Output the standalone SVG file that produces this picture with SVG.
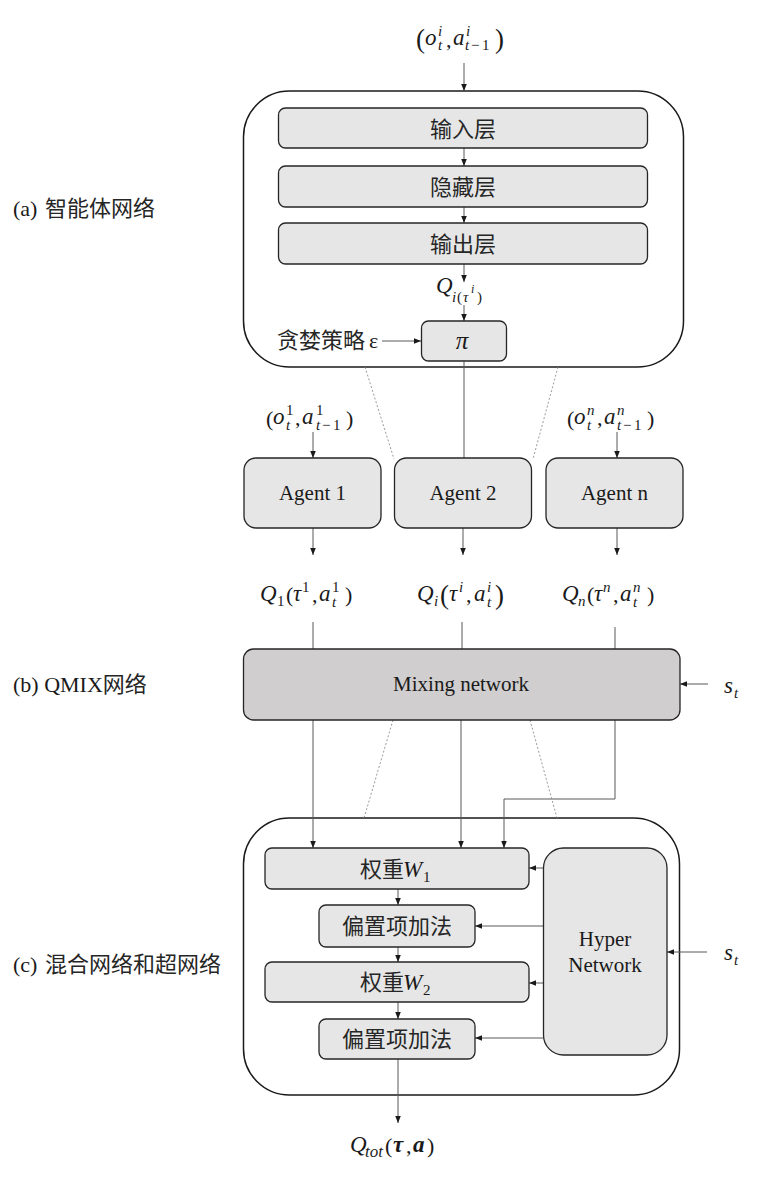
<svg xmlns="http://www.w3.org/2000/svg" width="767" height="1180" viewBox="0 0 767 1180">
<defs>
<marker id="ah" viewBox="0 0 10 10" refX="10" refY="5" markerWidth="7" markerHeight="7" orient="auto" markerUnits="userSpaceOnUse"><path d="M0,1 L10,5 L0,9 z" fill="#1a1a1a"/></marker>
</defs>
<style>
.outer{fill:#fff;stroke:#1a1a1a;stroke-width:1.5}
.box{fill:#e7e6e6;stroke:#262626;stroke-width:1.3}
.mix{fill:#d0cece;stroke:#262626;stroke-width:1.3}
.cn{font-family:"Noto Sans CJK SC",sans-serif;font-size:22px;fill:#262626}
.lt{font-family:"Liberation Serif","Noto Sans CJK SC",serif;font-size:22px;fill:#1a1a1a}
.en{font-family:"Liberation Serif",serif;font-size:21px;fill:#1a1a1a}
.m{font-family:"Liberation Serif",serif;font-style:italic;font-size:23px;fill:#1a1a1a}
.ms{font-family:"Liberation Serif",serif;font-style:italic;font-size:15px;fill:#1a1a1a}
.ns{font-family:"Liberation Serif",serif;font-size:15px;fill:#1a1a1a}
.p{font-family:"Liberation Serif",serif;font-size:22px;fill:#1a1a1a}
.pl{font-family:"Liberation Serif",serif;font-size:27px;fill:#1a1a1a}
.mb{font-family:"Liberation Serif",serif;font-style:italic;font-weight:bold;font-size:23px;fill:#1a1a1a}
.c{stroke:#595959;stroke-width:1;fill:none}
.a{marker-end:url(#ah)}
.d{stroke:#808080;stroke-width:0.8;stroke-dasharray:2 2;fill:none}
</style>

<!-- side labels -->
<g id="label-a"><text x="13" y="216" class="lt">(a)</text><text x="45" y="216" class="cn">智能体网络</text></g>
<g id="label-b"><text x="13" y="692" class="lt">(b) QMIX<tspan class="cn">网络</tspan></text></g>
<g id="label-c"><text x="13" y="972" class="lt">(c)</text><text x="45" y="972" class="cn">混合网络和超网络</text></g>

<!-- outer containers -->
<g id="agent-network"><rect x="243.5" y="91" width="440" height="276" rx="46" class="outer"/></g>
<g id="mix-hyper"><rect x="243.5" y="818" width="436" height="277" rx="46" class="outer"/></g>

<!-- connectors -->
<g id="connectors">
  <line x1="464" y1="63" x2="464" y2="91" class="c a"/>
  <line x1="464" y1="148" x2="464" y2="166" class="c a"/>
  <line x1="464" y1="207" x2="464" y2="223" class="c a"/>
  <line x1="464" y1="264" x2="464" y2="282" class="c a"/>
  <line x1="464" y1="305" x2="464" y2="321" class="c a"/>
  <line x1="382" y1="341" x2="421" y2="341" class="c a"/>
  <line x1="464" y1="361" x2="464" y2="458" class="c"/>
  <line x1="365" y1="367" x2="394" y2="459" class="d"/>
  <line x1="558" y1="367" x2="533" y2="459" class="d"/>
  <line x1="313" y1="432" x2="313" y2="458" class="c a"/>
  <line x1="617" y1="432" x2="617" y2="458" class="c a"/>
  <line x1="313" y1="528" x2="313" y2="555" class="c a"/>
  <line x1="463" y1="528" x2="463" y2="555" class="c a"/>
  <line x1="617" y1="528" x2="617" y2="555" class="c a"/>
  <line x1="313" y1="622" x2="313" y2="649" class="c"/>
  <line x1="462" y1="622" x2="462" y2="649" class="c"/>
  <line x1="615" y1="627" x2="615" y2="649" class="c"/>
  <line x1="708" y1="684" x2="680" y2="684" class="c a"/>
  <line x1="313" y1="720" x2="313" y2="848" class="c a"/>
  <line x1="461" y1="720" x2="461" y2="848" class="c a"/>
  <polyline points="615,720 615,799 504,799 504,848" class="c a"/>
  <line x1="393" y1="720" x2="364" y2="818" class="d"/>
  <line x1="530" y1="720" x2="557" y2="818" class="d"/>
  <line x1="398" y1="889" x2="398" y2="905" class="c a"/>
  <line x1="398" y1="947" x2="398" y2="962" class="c a"/>
  <line x1="398" y1="1002" x2="398" y2="1019" class="c a"/>
  <line x1="398" y1="1059" x2="398" y2="1123" class="c a"/>
  <line x1="543" y1="868" x2="529" y2="868" class="c a"/>
  <line x1="543" y1="926" x2="475" y2="926" class="c a"/>
  <line x1="543" y1="983" x2="529" y2="983" class="c a"/>
  <line x1="543" y1="1038" x2="475" y2="1038" class="c a"/>
  <line x1="707" y1="952" x2="667" y2="952" class="c a"/>
</g>

<!-- agent network internals -->
<g id="input-top">
  <text x="416" y="48" class="pl">(</text>
  <text x="425" y="45" class="m">o</text>
  <text x="438" y="36" class="ms">i</text>
  <text x="438" y="50" class="ms">t</text>
  <text x="446" y="47" class="p">,</text>
  <text x="453" y="45" class="m">a</text>
  <text x="466" y="36" class="ms">i</text>
  <text x="465" y="50" class="ms">t</text><text x="471" y="50" class="ns">−</text><text x="482" y="50" class="ns">1</text>
  <text x="495" y="48" class="pl">)</text>
</g>
<g id="input-layer"><rect x="278.5" y="108" width="369" height="40" rx="7" class="box"/><text x="463" y="137" class="cn" text-anchor="middle">输入层</text></g>
<g id="hidden-layer"><rect x="278.5" y="166" width="369" height="41" rx="7" class="box"/><text x="463" y="195" class="cn" text-anchor="middle">隐藏层</text></g>
<g id="output-layer"><rect x="278.5" y="223" width="369" height="41" rx="7" class="box"/><text x="463" y="252" class="cn" text-anchor="middle">输出层</text></g>
<g id="q-i">
  <text x="436" y="293" class="m">Q</text>
  <text x="452" y="302" class="ms">i</text>
  <text x="457" y="302" class="ns">(</text>
  <text x="463" y="302" class="ms">τ</text>
  <text x="471" y="293" style="font-family:'Liberation Serif',serif;font-style:italic;font-size:12px;fill:#1a1a1a">i</text>
  <text x="477" y="302" class="ns">)</text>
</g>
<g id="greedy"><text x="277" y="348" class="cn">贪婪策略</text><text x="369" y="348" class="p">ε</text></g>
<g id="pi"><rect x="421.5" y="321" width="85" height="40" rx="7" class="box"/><text x="462" y="349" class="m" style="font-size:25px" text-anchor="middle">π</text></g>

<!-- agents -->
<g id="in-1">
  <text x="266" y="426" class="p">(</text>
  <text x="273" y="424" class="m">o</text>
  <text x="286" y="415" class="ns">1</text>
  <text x="286" y="430" class="ms">t</text>
  <text x="295" y="425" class="p">,</text>
  <text x="302" y="424" class="m">a</text>
  <text x="316" y="415" class="ns">1</text>
  <text x="316" y="430" class="ms">t</text><text x="322" y="430" class="ns">−</text><text x="333" y="430" class="ns">1</text>
  <text x="346" y="426" class="p">)</text>
</g>
<g id="in-n">
  <text x="567" y="426" class="p">(</text>
  <text x="574" y="424" class="m">o</text>
  <text x="587" y="415" class="ms">n</text>
  <text x="587" y="430" class="ms">t</text>
  <text x="597" y="425" class="p">,</text>
  <text x="604" y="424" class="m">a</text>
  <text x="617" y="415" class="ms">n</text>
  <text x="617" y="430" class="ms">t</text><text x="623" y="430" class="ns">−</text><text x="634" y="430" class="ns">1</text>
  <text x="647" y="426" class="p">)</text>
</g>
<g id="agent-1"><rect x="244" y="458" width="137" height="70" rx="12" class="box"/><text x="312.5" y="500" class="en" text-anchor="middle">Agent 1</text></g>
<g id="agent-2"><rect x="394.5" y="458" width="137" height="70" rx="12" class="box"/><text x="463" y="500" class="en" text-anchor="middle">Agent 2</text></g>
<g id="agent-n"><rect x="546" y="458" width="137" height="70" rx="12" class="box"/><text x="614.5" y="500" class="en" text-anchor="middle">Agent n</text></g>

<g id="q-1">
  <text x="260" y="601" class="m">Q</text>
  <text x="277" y="606" class="ns">1</text>
  <text x="286" y="602" class="p">(</text>
  <text x="293" y="601" class="m">τ</text>
  <text x="302" y="592" class="ns">1</text>
  <text x="312" y="602" class="p">,</text>
  <text x="319" y="601" class="m">a</text>
  <text x="332" y="592" class="ns">1</text>
  <text x="332" y="607" class="ms">t</text>
  <text x="345" y="602" class="p">)</text>
</g>
<g id="q-i2">
  <text x="417" y="601" class="m">Q</text>
  <text x="434" y="606" class="ms">i</text>
  <text x="440" y="604" class="pl">(</text>
  <text x="449" y="601" class="m">τ</text>
  <text x="459" y="592" class="ms">i</text>
  <text x="466" y="602" class="p">,</text>
  <text x="474" y="601" class="m">a</text>
  <text x="487" y="592" class="ms">i</text>
  <text x="487" y="607" class="ms">t</text>
  <text x="495" y="604" class="pl">)</text>
</g>
<g id="q-n">
  <text x="562" y="601" class="m">Q</text>
  <text x="578" y="606" class="ms">n</text>
  <text x="587" y="602" class="p">(</text>
  <text x="594" y="601" class="m">τ</text>
  <text x="603" y="592" class="ms">n</text>
  <text x="613" y="602" class="p">,</text>
  <text x="620" y="601" class="m">a</text>
  <text x="633" y="592" class="ms">n</text>
  <text x="633" y="607" class="ms">t</text>
  <text x="647" y="602" class="p">)</text>
</g>

<!-- mixing network -->
<g id="mixing"><rect x="243.5" y="649" width="436.5" height="71" rx="10" class="mix"/><text x="461" y="691" class="en" text-anchor="middle">Mixing network</text></g>
<g id="s-t1"><text x="724" y="693" class="m">s</text><text x="734" y="698" class="ms">t</text></g>

<!-- mixing internals -->
<g id="w1"><rect x="265" y="848" width="264" height="41" rx="7" class="box"/><text x="360" y="877" class="cn">权重</text><text x="403" y="877" class="m">W</text><text x="423" y="882" class="ns">1</text></g>
<g id="bias-1"><rect x="319" y="905" width="156" height="42" rx="7" class="box"/><text x="397" y="934" class="cn" text-anchor="middle">偏置项加法</text></g>
<g id="w2"><rect x="265" y="962" width="264" height="40" rx="7" class="box"/><text x="360" y="990" class="cn">权重</text><text x="403" y="990" class="m">W</text><text x="423" y="995" class="ns">2</text></g>
<g id="bias-2"><rect x="319" y="1019" width="156" height="40" rx="7" class="box"/><text x="397" y="1047" class="cn" text-anchor="middle">偏置项加法</text></g>
<g id="hyper"><rect x="543.5" y="848" width="123.5" height="207" rx="20" class="box"/><text x="605" y="946" class="en" text-anchor="middle">Hyper</text><text x="605" y="972" class="en" text-anchor="middle">Network</text></g>
<g id="s-t2"><text x="724" y="960" class="m">s</text><text x="734" y="965" class="ms">t</text></g>

<g id="q-tot">
  <text x="350" y="1152" class="m">Q</text>
  <text x="365" y="1157" class="ms" style="font-size:17px">tot</text>
  <text x="385" y="1153" class="p">(</text>
  <text x="393" y="1152" class="mb">τ</text>
  <text x="406" y="1153" class="p">,</text>
  <text x="413" y="1152" class="mb">a</text>
  <text x="427" y="1153" class="p">)</text>
</g>
</svg>
